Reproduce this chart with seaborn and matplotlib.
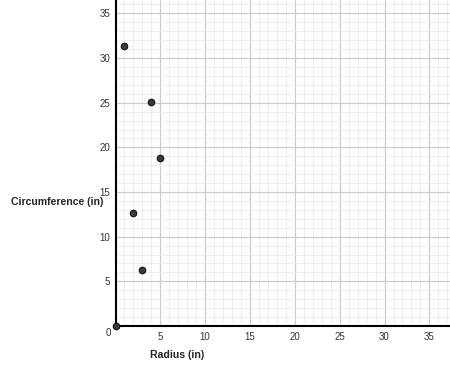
import numpy as np
import pandas as pd
import seaborn as sns
import matplotlib.pyplot as plt
from matplotlib.ticker import MultipleLocator, FixedLocator

radius = [0, 1, 4, 5, 2, 3]
circumference = [0, 31.4, 25.1, 18.8, 12.6, 6.3]
ticks = [5, 10, 15, 20, 25, 30, 35]

df = pd.DataFrame({'Radius': radius, 'Circumference': circumference})

sns.set_theme(style="white")
plt.rcParams['font.family'] = ['Liberation Sans', 'DejaVu Sans']

fig = plt.figure(figsize=(4.5, 3.65), dpi=100)
ax = fig.add_axes([115.5 / 450, 39 / 365, 1 - 115.5 / 450, 1 - 39 / 365])

sns.scatterplot(data=df, x='Radius', y='Circumference', ax=ax, s=22,
                color='#3a3a3a', edgecolor='#111111', linewidth=0.8,
                zorder=5, clip_on=False)

ax.set_xlim(0, 37.3)
ax.set_ylim(0, 36.5)
ax.xaxis.set_major_locator(FixedLocator(ticks))
ax.yaxis.set_major_locator(FixedLocator(ticks))
ax.xaxis.set_minor_locator(MultipleLocator(1))
ax.yaxis.set_minor_locator(MultipleLocator(1))
ax.grid(which='major', color='#cccccc', linewidth=0.9)
ax.grid(which='minor', color='#ebebeb', linewidth=0.6)
ax.set_axisbelow(True)

for s in ['top', 'right']:
    ax.spines[s].set_visible(False)
for s in ['left', 'bottom']:
    ax.spines[s].set_color('black')
    ax.spines[s].set_linewidth(1.5)

ax.tick_params(which='both', length=0, labelsize=7, labelcolor='#333333', pad=4)
ax.set_xlabel('')
ax.set_ylabel('')

fig.text(108 / 450, 1 - 333 / 365, '0', fontsize=7, color='#333333',
         ha='center', va='center')
fig.text(103 / 450, 1 - 202 / 365, 'Circumference (in)', fontsize=7.6,
         fontweight='bold', ha='right', va='center')
fig.text(177 / 450, 1 - 355 / 365, 'Radius (in)', fontsize=7.6,
         fontweight='bold', ha='center', va='center')

fig.savefig('out.png', dpi=100)
